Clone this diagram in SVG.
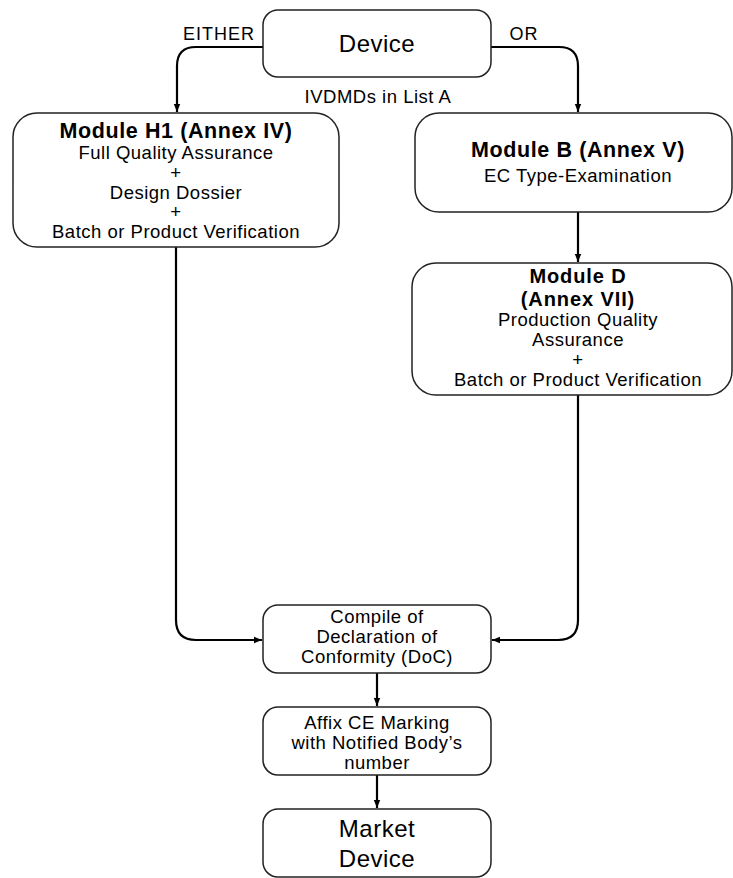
<svg xmlns="http://www.w3.org/2000/svg" width="733" height="878" viewBox="0 0 733 878">
  <style>
    .box { fill: #ffffff; stroke: #222222; stroke-width: 1.5; }
    .conn { fill: none; stroke: #000000; stroke-width: 2.2; }
    text { font-family: "Liberation Sans", Arial, sans-serif; fill: #000000; text-anchor: middle; }
    .t { font-size: 18.5px; letter-spacing: 0.5px; }
    .b { font-size: 21.5px; font-weight: bold; letter-spacing: 0.6px; }
    .bs { font-size: 20px; font-weight: bold; letter-spacing: 0.9px; }
    .big { font-size: 24px; letter-spacing: 0.5px; }
    .lbl { font-size: 18px; letter-spacing: 1px; }
  </style>
  <defs>
    <marker id="arrow" markerWidth="9" markerHeight="9" refX="8" refY="4" orient="auto" markerUnits="userSpaceOnUse">
      <path d="M0,0.8 L8,4 L0,7.2 Z" fill="#000000"/>
    </marker>
  </defs>

  <rect width="733" height="878" fill="#ffffff"/>

  <!-- connectors -->
  <g id="connectors">
    <path class="conn" d="M263,47 H196 Q177,47 177,66 V112" marker-end="url(#arrow)"/>
    <path class="conn" d="M491,47 H559 Q578,47 578,66 V112" marker-end="url(#arrow)"/>
    <path class="conn" d="M578,212 V262" marker-end="url(#arrow)"/>
    <path class="conn" d="M176,247 V620 Q176,640 196,640 H262" marker-end="url(#arrow)"/>
    <path class="conn" d="M578,395 V620 Q578,640 558,640 H492" marker-end="url(#arrow)"/>
    <path class="conn" d="M377,673 V706" marker-end="url(#arrow)"/>
    <path class="conn" d="M377,775 V808" marker-end="url(#arrow)"/>
  </g>

  <!-- edge labels -->
  <text class="lbl" x="219" y="40">EITHER</text>
  <text class="lbl" x="524" y="40">OR</text>
  <text class="t" x="378" y="103">IVDMDs in List A</text>

  <g id="device">
    <rect class="box" x="263" y="10" width="228" height="67" rx="15"/>
    <text class="big" x="377" y="52">Device</text>
  </g>

  <g id="module-h1">
    <rect class="box" x="13" y="113" width="326" height="134" rx="24"/>
    <text class="b" x="176" y="138">Module H1 (Annex IV)</text>
    <text class="t" x="176" y="159">Full Quality Assurance</text>
    <text class="t" x="176" y="179">+</text>
    <text class="t" x="176" y="199">Design Dossier</text>
    <text class="t" x="176" y="218">+</text>
    <text class="t" x="176" y="238">Batch or Product Verification</text>
  </g>

  <g id="module-b">
    <rect class="box" x="415" y="113" width="317" height="99" rx="24"/>
    <text class="b" x="578" y="157">Module B (Annex V)</text>
    <text class="t" x="578" y="182">EC Type-Examination</text>
  </g>

  <g id="module-d">
    <rect class="box" x="412" y="263" width="320" height="132" rx="24"/>
    <text class="bs" x="578" y="283">Module D</text>
    <text class="bs" x="578" y="306">(Annex VII)</text>
    <text class="t" x="578" y="326">Production Quality</text>
    <text class="t" x="578" y="346">Assurance</text>
    <text class="t" x="578" y="366">+</text>
    <text class="t" x="578" y="386">Batch or Product Verification</text>
  </g>

  <g id="doc">
    <rect class="box" x="263" y="605" width="228" height="68" rx="15"/>
    <text class="t" x="377" y="623">Compile of</text>
    <text class="t" x="377" y="643">Declaration of</text>
    <text class="t" x="377" y="663">Conformity (DoC)</text>
  </g>

  <g id="affix-ce">
    <rect class="box" x="263" y="707" width="228" height="68" rx="15"/>
    <text class="t" x="377" y="729">Affix CE Marking</text>
    <text class="t" x="377" y="749">with Notified Body’s</text>
    <text class="t" x="377" y="769">number</text>
  </g>

  <g id="market-device">
    <rect class="box" x="263" y="809" width="228" height="68" rx="15"/>
    <text class="big" x="377" y="837">Market</text>
    <text class="big" x="377" y="867">Device</text>
  </g>
</svg>
